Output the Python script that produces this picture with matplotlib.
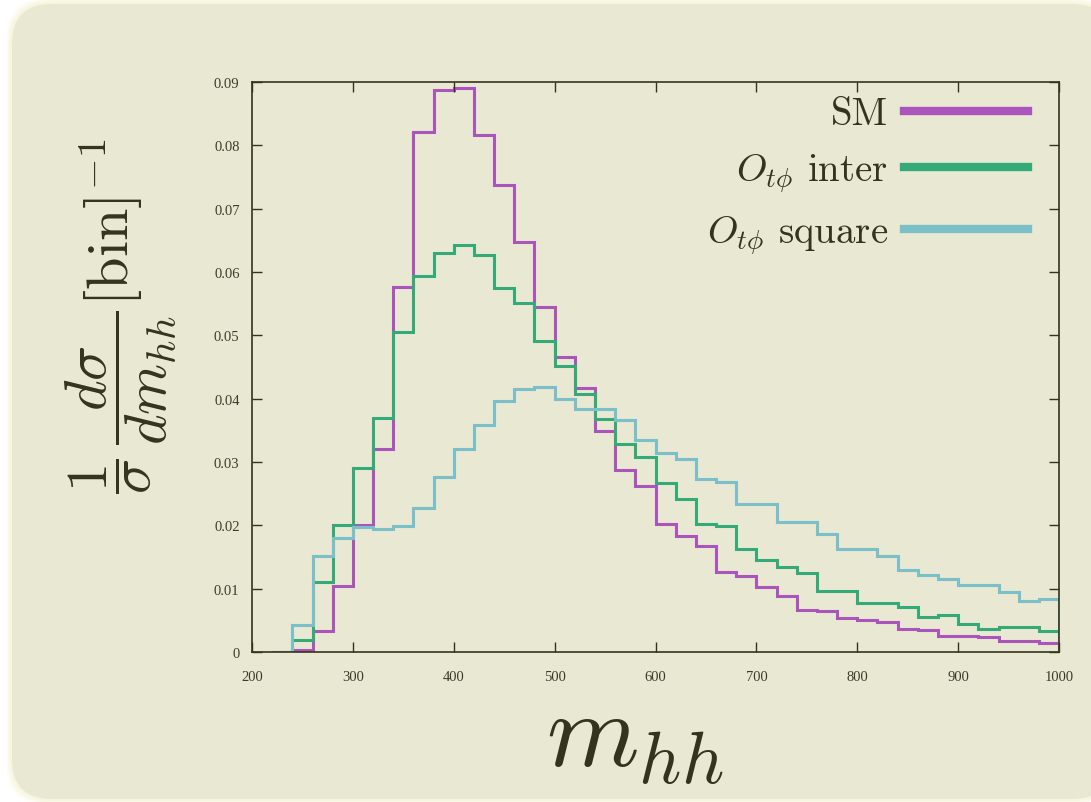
import numpy as np
import matplotlib
matplotlib.use("Agg")
import matplotlib.pyplot as plt
from matplotlib.patches import FancyBboxPatch

plt.rcParams['mathtext.fontset'] = 'cm'

# bin edges of the m_hh histogram (GeV)
edges = np.arange(220, 1001, 20)

# normalised distributions per bin
sm = [0.0000, 0.0003, 0.0033, 0.0104, 0.0201, 0.0320, 0.0576, 0.0821, 0.0888, 0.0891,
      0.0816, 0.0738, 0.0647, 0.0544, 0.0466, 0.0417, 0.0349, 0.0288, 0.0262, 0.0202,
      0.0183, 0.0168, 0.0127, 0.0120, 0.0103, 0.0088, 0.0067, 0.0064, 0.0053, 0.0050,
      0.0047, 0.0036, 0.0035, 0.0026, 0.0026, 0.0023, 0.0017, 0.0017, 0.0014]
inter = [0.0000, 0.0019, 0.0110, 0.0201, 0.0291, 0.0370, 0.0505, 0.0593, 0.0630, 0.0643,
         0.0627, 0.0575, 0.0551, 0.0491, 0.0452, 0.0407, 0.0368, 0.0328, 0.0308, 0.0267,
         0.0241, 0.0202, 0.0199, 0.0163, 0.0145, 0.0134, 0.0124, 0.0097, 0.0097, 0.0077,
         0.0077, 0.0071, 0.0056, 0.0058, 0.0045, 0.0037, 0.0039, 0.0040, 0.0033]
square = [0.0000, 0.0043, 0.0151, 0.0180, 0.0197, 0.0194, 0.0199, 0.0228, 0.0277, 0.0320,
          0.0359, 0.0397, 0.0415, 0.0418, 0.0399, 0.0384, 0.0383, 0.0367, 0.0334, 0.0315,
          0.0304, 0.0273, 0.0269, 0.0234, 0.0234, 0.0205, 0.0205, 0.0186, 0.0162, 0.0162,
          0.0152, 0.0129, 0.0122, 0.0116, 0.0106, 0.0106, 0.0095, 0.0080, 0.0084]

labels = ['SM', r'$O_{t\phi}$ inter', r'$O_{t\phi}$ square']
colors = ['#AA55BB', '#33AA77', '#7BBFC8']

xticks = np.arange(200, 1001, 100)
yticks = np.arange(0, 0.091, 0.01)

bg = '#E9E8D2'
ink = '#33331E'

fig = plt.figure(figsize=(10.91, 8.03), dpi=100, facecolor='white')

# rounded beige card behind the plot, with a faint yellow rim
for grow, a in [(0.06, 0.15), (0.04, 0.25), (0.02, 0.4)]:
    fig.patches.append(FancyBboxPatch((0.12 - grow, 0.03 - grow), 11.0 + 2 * grow, 7.95 + 2 * grow,
                                      boxstyle='round,pad=0,rounding_size=0.42',
                                      transform=fig.dpi_scale_trans, facecolor='#F4F1C6',
                                      edgecolor='none', alpha=a, zorder=-2))
fig.patches.append(FancyBboxPatch((0.12, 0.03), 11.0, 7.95,
                                  boxstyle='round,pad=0,rounding_size=0.4',
                                  transform=fig.dpi_scale_trans, facecolor=bg,
                                  edgecolor='none', zorder=-1))

ax = fig.add_axes([0.231, 0.1868, 0.7397, 0.7098])
ax.set_facecolor('none')

for vals, lab, c in zip([sm, inter, square], labels, colors):
    ax.stairs(vals, edges, baseline=0, color=c, lw=2.2, label=lab)

ax.set_xlim(200, 1000)
ax.set_ylim(0, 0.09)
ax.set_xticks(xticks)
ax.set_yticks(yticks)
ax.set_yticklabels(['0' if v == 0 else f'{v:.2f}' for v in yticks])
ax.tick_params(direction='in', length=7, width=1.0, color=ink, top=True, right=True,
               labelsize=10.5, labelcolor='#3C3C2A', pad=9)
ax.tick_params(axis='x', pad=13)
for lbl in ax.get_xticklabels() + ax.get_yticklabels():
    lbl.set_fontfamily('Liberation Serif')
for s in ax.spines.values():
    s.set_color(ink)
    s.set_linewidth(1.2)

ax.set_xlabel(r'$m_{hh}$', fontsize=76, color=ink)
ax.xaxis.set_label_coords(0.4746, -0.06)
ax.set_ylabel(r'$\dfrac{1}{\sigma}\,\dfrac{d\sigma}{dm_{hh}}[\mathrm{bin}]^{-1}$',
              fontsize=42, color=ink)
ax.yaxis.set_label_coords(-0.092, 0.59)

leg = ax.legend(loc='upper right', bbox_to_anchor=(0.962, 0.975), frameon=False,
                markerfirst=False, fontsize=28, handlelength=3.2, handletextpad=0.4,
                labelspacing=0.5, borderaxespad=0, borderpad=0)
for h in leg.get_lines():
    h.set_linewidth(6)
for t in leg.get_texts():
    t.set_color(ink)
    t.set_fontfamily('cmr10')

fig.savefig('out.png', dpi=100, facecolor='white')
